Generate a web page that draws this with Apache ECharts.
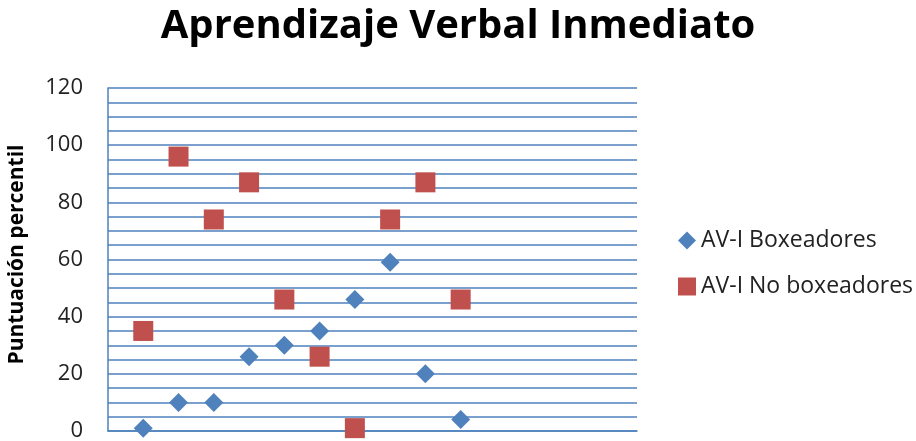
<!DOCTYPE html>
<html>
<head>
<meta charset="utf-8">
<script src="https://cdn.jsdelivr.net/npm/echarts@6/dist/echarts.min.js"></script>
<style>
  body { margin: 0; background: #fff; }
  #chart { width: 916px; height: 441px; }
</style>
</head>
<body>
<div id="chart"></div>
<script>
const subjects = [1, 2, 3, 4, 5, 6, 7, 8, 9, 10]
const boxeadores = [1, 10, 10, 26, 30, 35, 46, 59, 20, 4]
const noBoxeadores = [35, 96, 74, 87, 46, 26, 1, 74, 87, 46]
const seriesNames = ['AV-I Boxeadores', 'AV-I No boxeadores']

const blue = '#4F81BD'
const red = '#C0504D'
const font = 'Open Sans'

function pairs(values) {
    return subjects.map((x, i) => [x, values[i]])
}

let chart = echarts.init(document.getElementById('chart'))
chart.setOption({
    animation: false,
    title: {
        text: 'Aprendizaje Verbal Inmediato',
        left: 453,
        textAlign: 'center',
        top: 2,
        textStyle: { fontFamily: font, fontSize: 40, fontWeight: 'bold', color: '#000' }
    },
    legend: {
        orient: 'vertical',
        left: 673,
        top: 224,
        itemGap: 23,
        itemWidth: 18,
        itemHeight: 18,
        textStyle: { fontFamily: font, fontSize: 23, color: '#222' },
        data: [
            { name: seriesNames[0], icon: 'diamond' },
            { name: seriesNames[1], icon: 'rect' }
        ]
    },
    grid: { left: 108, top: 88, width: 529, height: 343, outerBoundsMode: 'none' },
    xAxis: {
        type: 'value',
        min: 0,
        max: 15,
        axisLabel: { show: false },
        axisTick: { show: false },
        splitLine: { show: false },
        axisLine: { show: true, lineStyle: { color: blue, width: 1.5 } }
    },
    yAxis: {
        type: 'value',
        min: 0,
        max: 120,
        interval: 20,
        name: 'Puntuación percentil',
        nameLocation: 'middle',
        nameGap: 80,
        nameTextStyle: {
            fontFamily: font, fontSize: 21, fontWeight: 'bold', color: '#000',
            padding: [0, 0, 0, 10]
        },
        axisLabel: { fontFamily: font, fontSize: 22, color: '#222', margin: 25 },
        axisTick: { show: false },
        axisLine: { show: true, lineStyle: { color: blue, width: 1.5 } },
        splitLine: { show: true, lineStyle: { color: blue, width: 1.5 } },
        minorTick: { show: false, splitNumber: 4 },
        minorSplitLine: { show: true, lineStyle: { color: blue, width: 1.5 } }
    },
    series: [
        {
            name: seriesNames[0],
            type: 'scatter',
            symbol: 'diamond',
            symbolSize: 19,
            itemStyle: { color: blue, opacity: 1 },
            data: pairs(boxeadores)
        },
        {
            name: seriesNames[1],
            type: 'scatter',
            symbol: 'rect',
            symbolSize: 20,
            itemStyle: { color: red, opacity: 1 },
            data: pairs(noBoxeadores)
        }
    ]
})
</script>
</body>
</html>
